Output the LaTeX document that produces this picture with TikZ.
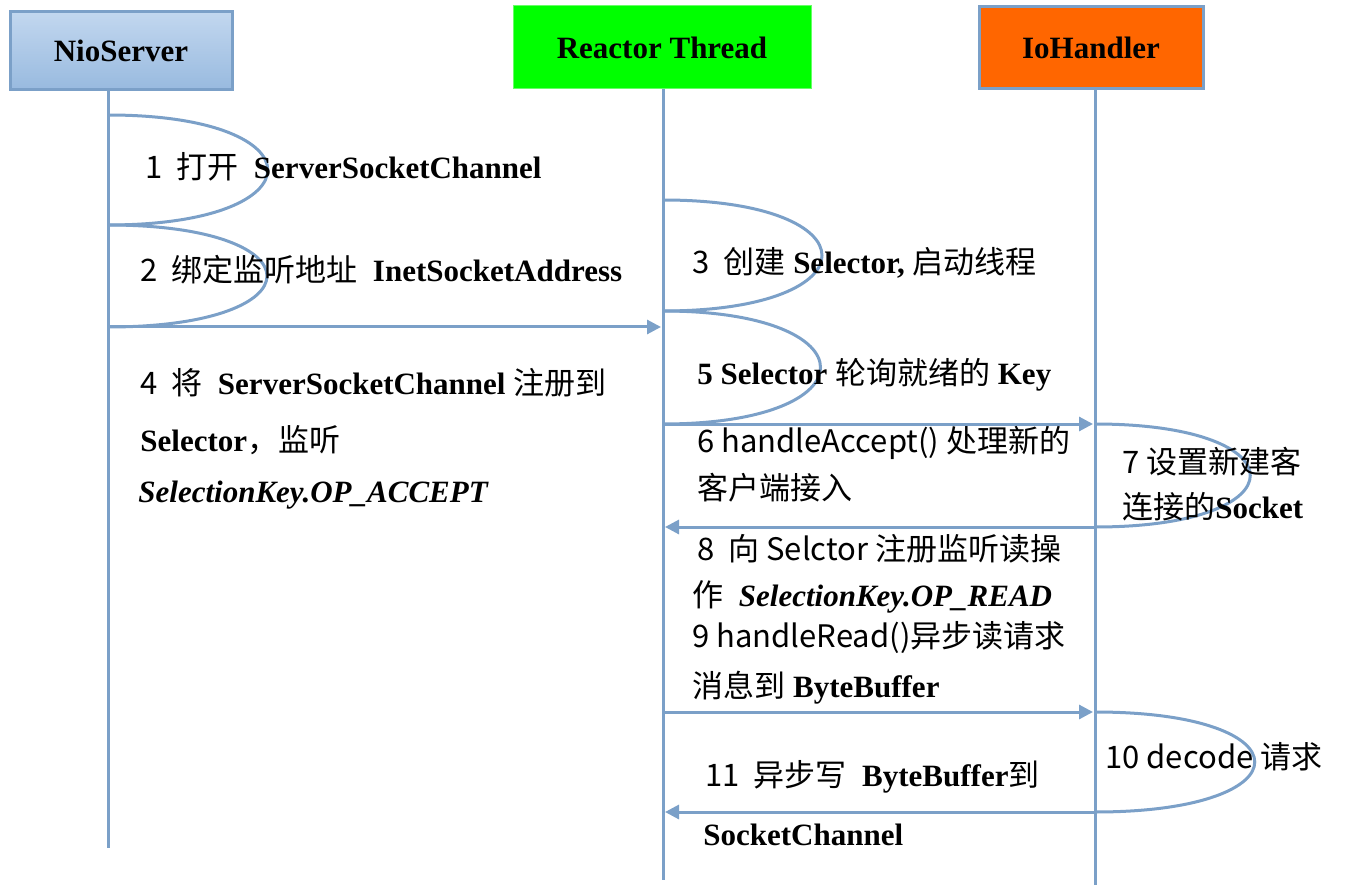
\documentclass[tikz,border=0pt]{standalone}
\usepackage{fontspec}
\setmainfont{Liberation Serif}
\newfontfamily\cjk{Noto Sans CJK SC}
\usetikzlibrary{arrows.meta}
\definecolor{LifeBlue}{HTML}{7BA0C8}
\definecolor{NioTop}{HTML}{C2D7EF}
\definecolor{NioBottom}{HTML}{98BADF}
\definecolor{ReactorGreen}{HTML}{00FF00}
\definecolor{HandlerOrange}{HTML}{FF6600}
\newcommand{\zh}[1]{{\cjk #1}}
\tikzset{
    % Participant header
    actor/.style={
        rectangle,
        align=center,
        font=\fontsize{15.5}{18}\selectfont\bfseries
    },
    % Lifeline
    lifeline/.style={
        draw=LifeBlue,
        line width=1.5pt
    },
    % Self call loop
    selfcall/.style={
        draw=LifeBlue,
        line width=1.5pt
    },
    % Message arrow
    msg/.style={
        -{Triangle[length=7pt,width=7pt]},
        draw=LifeBlue,
        line width=1.5pt,
        shorten >=1pt
    },
    % Step text
    msgtext/.style={
        anchor=west,
        inner sep=0pt,
        font=\fontsize{15.5}{18}\selectfont
    }
}

\begin{document}
\begin{tikzpicture}[x=0.5pt, y=-0.5pt]
    \useasboundingbox (0,0) rectangle (1352,892);

    % Participants
    \node (nio) [actor, minimum width=111pt, minimum height=39pt, top color=NioTop, bottom color=NioBottom, draw=LifeBlue, line width=1.5pt] at (121,51) {NioServer};
    \node (reactor) [actor, minimum width=149pt, minimum height=41.5pt, fill=ReactorGreen, draw=ReactorGreen!60!white, line width=0.5pt] at (662,47.5) {Reactor Thread};
    \node (handler) [actor, minimum width=112pt, minimum height=41pt, fill=HandlerOrange, draw=LifeBlue, line width=1.5pt] at (1091,48) {IoHandler};

    % Lifeline ends
    \coordinate (nioEnd) at (108,848);
    \coordinate (reactorEnd) at (663,880);
    \coordinate (handlerEnd) at (1095,885);

    \draw [lifeline] (nio.south -| nioEnd) -- (nioEnd);
    \draw [lifeline] (reactor.south -| reactorEnd) -- (reactorEnd);
    \draw [lifeline] (handler.south -| handlerEnd) -- (handlerEnd);

    % Points on the lifelines
    \coordinate (n1) at (108,115);
    \coordinate (n2) at (108,225);
    \coordinate (n3) at (108,327);
    \coordinate (r1) at (663,200);
    \coordinate (r2) at (663,311);
    \coordinate (ra) at (663,327);
    \coordinate (r3) at (663,424);
    \coordinate (r4) at (663,527);
    \coordinate (r5) at (663,712);
    \coordinate (r6) at (663,812);
    \coordinate (h1) at (1095,424);
    \coordinate (h2) at (1095,527);
    \coordinate (h3) at (1095,712);
    \coordinate (h4) at (1095,812);

    % Self calls
    \draw [selfcall] (n1) .. controls +(213,0) and +(213,0) .. (n2);
    \draw [selfcall] (n2) .. controls +(212,0) and +(212,0) .. (n3);
    \draw [selfcall] (r1) .. controls +(212,0) and +(212,0) .. (r2);
    \draw [selfcall] (r2) .. controls +(210,0) and +(210,0) .. (r3);
    \draw [selfcall] (h1) .. controls +(207,0) and +(207,0) .. (h2);
    \draw [selfcall] (h3) .. controls +(213,0) and +(213,0) .. (h4);

    % Messages
    \draw [msg] (n3) -- (ra);
    \draw [msg] (r3) -- (h1);
    \draw [msg] (h2) -- (r4);
    \draw [msg] (r5) -- (h3);
    \draw [msg] (h4) -- (r6);

    % Step texts
    \node (step1) [msgtext] at (145,167) {\zh{1\ \ 打开}\ \ \textbf{ServerSocketChannel}};
    \node (step2) [msgtext] at (140,270) {\zh{2\ \ 绑定监听地址}\ \ \textbf{InetSocketAddress}};
    \node (step3) [msgtext] at (692,263) {\zh{3\ \ 创建}\ \textbf{Selector,}\ \zh{启动线程}};
    \node (step4a) [msgtext] at (140,383) {\zh{4\ \ 将}\ \ \textbf{ServerSocketChannel}\ \zh{注册到}};
    \node (step4b) [msgtext] at (140,440) {\textbf{Selector}\zh{，监听}};
    \node (step4c) [msgtext] at (138,495) {\textbf{\textit{SelectionKey.OP\_ACCEPT}}};
    \node (step5) [msgtext] at (697,375) {\textbf{5 Selector}\ \zh{轮询就绪的}\ \textbf{Key}};
    \node (step6a) [msgtext] at (697,443) {\zh{6 handleAccept() 处理新的}};
    \node (step6b) [msgtext] at (697,488) {\zh{客户端接入}};
    \node (step7a) [msgtext] at (1122,462) {\zh{7\ 设置新建客}};
    \node (step7b) [msgtext] at (1122,507) {\zh{连接的}\textbf{Socket}};
    \node (step8a) [msgtext] at (697,549) {\zh{8\ \ 向 Selctor 注册监听读操}};
    \node (step8b) [msgtext] at (692,597) {\zh{作}\ \ \textbf{\textit{SelectionKey.OP\_READ}}};
    \node (step9a) [msgtext] at (692,638) {\zh{9 handleRead()异步读请求}};
    \node (step9b) [msgtext] at (692,688) {\zh{消息到}\ \textbf{ByteBuffer}};
    \node (step10) [msgtext] at (1105,757) {\zh{10 decode 请求}};
    \node (step11a) [msgtext] at (705,777) {\zh{11\ \ 异步写}\ \ \textbf{ByteBuffer}\zh{到}};
    \node (step11b) [msgtext] at (703,835) {\textbf{SocketChannel}};
\end{tikzpicture}
\end{document}
